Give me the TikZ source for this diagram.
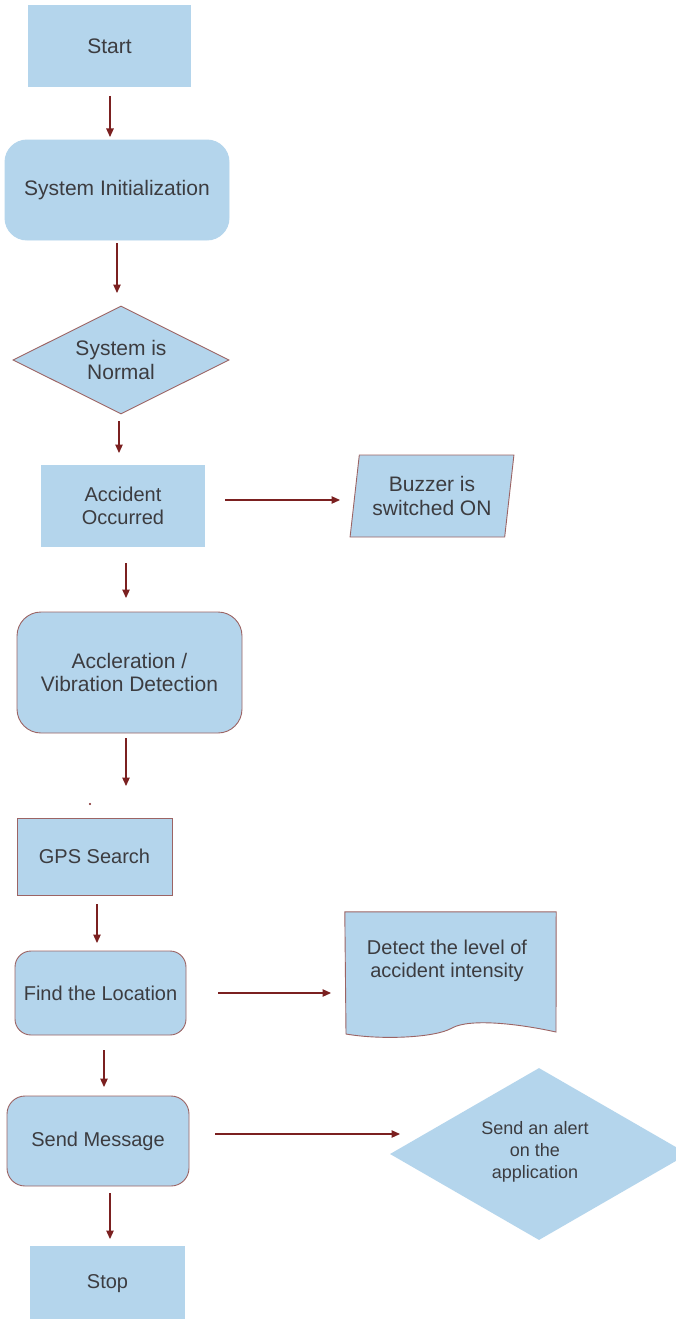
\documentclass[tikz,border=0pt]{standalone}
\usepackage{fontspec}
\setmainfont{Liberation Sans}
\usetikzlibrary{shapes.geometric,arrows.meta}
\definecolor{boxfill}{HTML}{B4D5EC}
\definecolor{boxline}{HTML}{9C6464}
\definecolor{arrowc}{HTML}{7B2020}
\definecolor{txt}{HTML}{3C3C40}
\tikzset{
  lbl/.style={font=\fontsize{21}{23.5}\selectfont, text=txt, align=center},
  lblmid/.style={font=\fontsize{20}{23}\selectfont},
  lblsmall/.style={font=\fontsize{18}{22}\selectfont},
  plainbox/.style={lbl, fill=boxfill, draw=none, inner sep=0pt},
  framebox/.style={lbl, fill=boxfill, draw=boxline, line width=0.9pt, inner sep=0pt},
  roundbox/.style={framebox, rounded corners=22pt},
  flow/.style={draw=arrowc, line width=1.1pt, -{Triangle[width=7.5pt,length=8.5pt]}},
}
\begin{document}
\begin{tikzpicture}[x=1pt,y=-1pt]
\useasboundingbox (0,0) rectangle (676,1319);
\clip (0,0) rectangle (676,1319);
\fill[white] (0,0) rectangle (676,1319);

% nodes
\node[plainbox, minimum width=163, minimum height=82] (start) at (109.5,46) {Start};
\node[roundbox, draw=boxfill, minimum width=224, minimum height=100] (init) at (117,190) {System Initialization};
\node[lbl, diamond, fill=boxfill, draw=boxline, line width=0.9pt, aspect=2, inner sep=0pt, minimum width=216, minimum height=108] (normal) at (121,360) {System is\\Normal};
\node[plainbox, lblmid, minimum width=164, minimum height=82] (acc) at (123,506) {Accident\\Occurred};
\node[lbl, trapezium, trapezium left angle=79, trapezium right angle=101, fill=boxfill, draw=boxline, line width=0.9pt, inner sep=0pt, minimum width=164, minimum height=82, trapezium stretches=true] (buzz) at (432,496) {Buzzer is\\switched ON};
\node[roundbox, rounded corners=24pt, minimum width=225, minimum height=121] (vib) at (129.5,672.5) {Accleration /\\Vibration Detection};
\node[framebox, lblmid, minimum width=155, minimum height=77] (gps) at (94.5,856.5) {GPS Search};
\node[roundbox, lblmid, rounded corners=16pt, minimum width=171, minimum height=84] (loc) at (100.5,993) {Find the Location};
\node[minimum width=211, minimum height=120, inner sep=0pt] (det) at (450.5,972) {};
\node[roundbox, lblmid, rounded corners=18pt, minimum width=182, minimum height=90] (msg) at (98,1141) {Send Message};
\node[lbl, diamond, fill=boxfill, draw=none, aspect=1.75, inner sep=0pt, minimum width=298, minimum height=172] (alert) at (539,1154) {};
\node[plainbox, minimum width=155, minimum height=90] (stop) at (107.5,1291) {};

% document shape
\draw[fill=boxfill, draw=boxline, line width=0.9pt]
  (det.north west) -- (det.north east) -- (556,1032)
  .. controls (520,1024) and (470,1018) .. (452,1028)
  .. controls (435,1038) and (380,1040) .. (346,1034) -- cycle;
\node[lbl, lblmid] (dettxt) at (447,961) {Detect the level of\\accident intensity};
\node[lbl, lblsmall] (alerttxt) at (535,1152) {Send an alert\\on the\\application};
\node[lbl, lblmid] (stoptxt) at (107.5,1284) {Stop};

% small stray dot
\fill[arrowc] (90,804) circle (1.2pt);

% connectors
\coordinate (a1) at (110,96);  \coordinate (a1e) at (110,137);
\coordinate (a2) at (117,243); \coordinate (a2e) at (117,293);
\coordinate (a3) at (119,421); \coordinate (a3e) at (119,453);
\coordinate (a4) at (126,563); \coordinate (a4e) at (126,598);
\coordinate (a5) at (126,738); \coordinate (a5e) at (126,786);
\coordinate (a6) at (97,904);  \coordinate (a6e) at (97,943);
\coordinate (a7) at (104,1050); \coordinate (a7e) at (104,1087);
\coordinate (a8) at (110,1193); \coordinate (a8e) at (110,1239);
\coordinate (h1) at (225,500); \coordinate (h1e) at (340,500);
\coordinate (h2) at (218,993); \coordinate (h2e) at (331,993);
\coordinate (h3) at (215,1134); \coordinate (h3e) at (400,1134);
\draw[flow] (a1) -- (a1e);
\draw[flow] (a2) -- (a2e);
\draw[flow] (a3) -- (a3e);
\draw[flow] (a4) -- (a4e);
\draw[flow] (a5) -- (a5e);
\draw[flow] (a6) -- (a6e);
\draw[flow] (a7) -- (a7e);
\draw[flow] (a8) -- (a8e);
\draw[flow] (h1) -- (h1e);
\draw[flow] (h2) -- (h2e);
\draw[flow] (h3) -- (h3e);
\end{tikzpicture}
\end{document}
